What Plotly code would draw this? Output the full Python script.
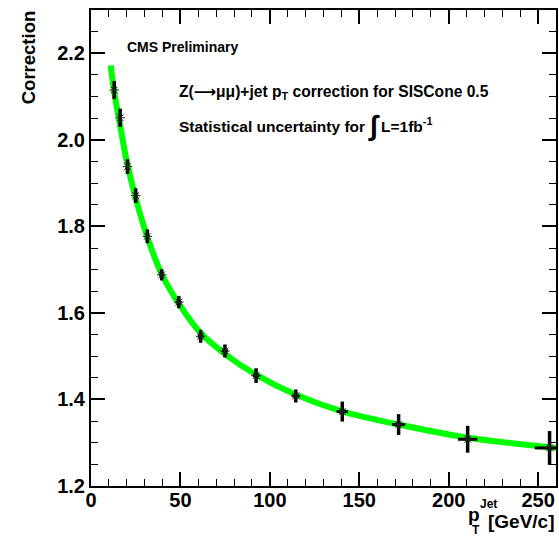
import plotly.graph_objects as go

# Data points: jet pT (GeV/c) and correction
pt = [13.0, 16.3, 20.4, 25.0, 31.5, 39.5, 49.1, 61.3, 74.9, 92.3, 114.5, 140.5, 172.0, 210.6, 256.4]
corr = [2.115, 2.051, 1.938, 1.871, 1.777, 1.688, 1.625, 1.546, 1.512, 1.455, 1.408, 1.372, 1.342, 1.308, 1.288]
corr_err = [0.021, 0.021, 0.017, 0.017, 0.016, 0.013, 0.014, 0.015, 0.015, 0.017, 0.015, 0.023, 0.024, 0.031, 0.039]
pt_err = [0.5, 0.6, 0.8, 1.0, 1.1, 1.3, 1.5, 1.6, 1.7, 1.8, 2.0, 3.2, 3.7, 5.4, 8.3]

# Fit curve
fit_pt = [11.0, 13.0, 16.0, 20.0, 25.0, 31.5, 39.5, 49.0, 61.0, 75.0, 92.0, 114.0, 140.0, 172.0, 210.0, 260.0]
fit_corr = [2.172, 2.11, 2.04, 1.95, 1.865, 1.775, 1.69, 1.622, 1.555, 1.505, 1.458, 1.412, 1.373, 1.342, 1.312, 1.288]

W, H = 559, 536
L, R, T, B = 91, 1, 10, 50
PW, PH = W - L - R, H - T - B

def px(x):
    return (x - L) / PW

def py(y):
    return (H - B - y) / PH

FONT = "Liberation Sans, Arial, sans-serif"

fig = go.Figure()
fig.add_trace(go.Scatter(
    x=fit_pt, y=fit_corr, mode="lines",
    line=dict(color="#00ff00", width=6, shape="spline", smoothing=1.0),
    hoverinfo="skip", showlegend=False,
))
fig.add_trace(go.Scatter(
    x=pt, y=corr, mode="markers",
    marker=dict(symbol="asterisk-open", size=8, color="#222222",
                line=dict(color="#222222", width=1)),
    error_y=dict(type="data", array=corr_err, color="black", thickness=3.5, width=0),
    error_x=dict(type="data", array=pt_err, color="black", thickness=3, width=0),
    showlegend=False,
))

axis_common = dict(
    showline=True, linecolor="black", linewidth=2, mirror="allticks",
    ticks="inside", ticklen=14, tickwidth=1.5, tickcolor="black",
    showgrid=False, zeroline=False,
    tickfont=dict(family=FONT, size=20, color="black", weight="bold"),
)

fig.update_xaxes(range=[0, 260], tick0=0, dtick=50, ticklabelstandoff=-5,
                 minor=dict(ticks="inside", ticklen=7, dtick=10, tickwidth=1, tickcolor="black", showgrid=False),
                 **axis_common)
fig.update_yaxes(range=[1.2, 2.3], tick0=1.2, dtick=0.2, tickformat=".1f",
                 minor=dict(ticks="inside", ticklen=7, dtick=0.05, tickwidth=1, tickcolor="black", showgrid=False),
                 **axis_common)

ann = []
def text(s, x, y, size, xanchor="left", yanchor="middle", angle=0):
    ann.append(dict(text=s, x=px(x), y=py(y), xref="paper", yref="paper",
                    xanchor=xanchor, yanchor=yanchor, showarrow=False, textangle=angle,
                    font=dict(family=FONT, size=size, color="black", weight="bold")))

text("CMS Preliminary", 125, 47, 14)
text("Z(<span style='font-family:DejaVu Sans'>⟶</span>μμ)+jet p<sub>T</sub> correction for SISCone 0.5", 177, 92, 15.6)
text("Statistical uncertainty for", 177, 126, 15.5)
text("∫", 367, 126, 28)
text("L=1fb<sup>-1</sup>", 380, 125, 15.5)
text("Correction", 28, 8, 18.5, xanchor="center", yanchor="top", angle=-90)
# x-axis title: p_T^Jet [GeV/c]
text("p", 468, 514, 19)
text("Jet", 480, 504, 12)
text("T", 472, 530, 12)
text("[GeV/c]", 559, 521, 19, xanchor="right")

fig.update_layout(
    width=W, height=H,
    margin=dict(l=L, r=R, t=T, b=B, pad=0),
    paper_bgcolor="white", plot_bgcolor="white",
    annotations=ann,
    showlegend=False,
)

fig.write_html("out.html", config={"displayModeBar": False},
               post_script="document.body.style.margin='0';document.body.style.padding='0';document.body.style.overflow='hidden';")
